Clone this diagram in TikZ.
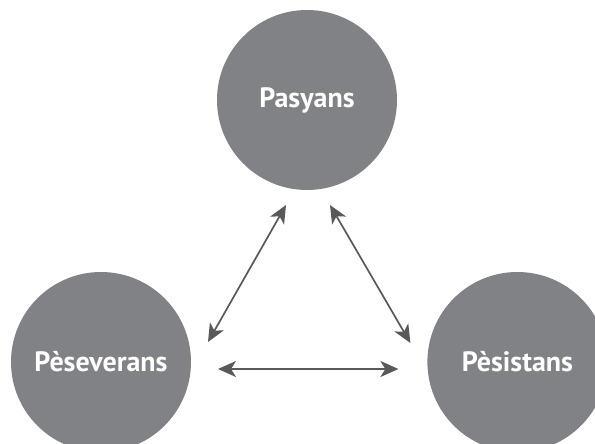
\documentclass[tikz,border=0pt]{standalone}
\usepackage{fontspec}
\setsansfont{PT Sans}
\usepackage{tikz}
\usetikzlibrary{positioning}
\usetikzlibrary{calc}
\usetikzlibrary{arrows.meta}

\definecolor{circlegray}{HTML}{808285}
\definecolor{arrowgray}{HTML}{58595B}

\begin{document}
\begin{tikzpicture}[x=1pt,y=1pt]
    % \draw (0,0) grid (595,444);
    \clip (0,0) rectangle (595,444);
    \useasboundingbox (0,0) rectangle (595,444);

    \def\dist{236pt}
  \tikzset{virtue node/.style={circle, fill=circlegray, minimum size=180pt, inner sep=0pt,
      text=white, font=\sffamily\bfseries\fontsize{28}{32}\selectfont}}
  \tikzset{link arrow/.style={draw=arrowgray, line width=1.7pt,
      {Stealth[length=18pt, width=16pt, inset=5pt]}-{Stealth[length=18pt, width=16pt, inset=5pt]}}}

  \coordinate (origin) at (307, 82);

  \node[virtue node] (pas) at ($(origin)+(0, 262)$) {Pasyans};
  \node[virtue node] (pes) at ($(origin)+(-206, 0)$) {Pèseverans};
  \node[right=\dist of pes, virtue node] (pis) {Pèsistans};
  %
  %
  \coordinate (pasl) at ($(pas)+(-21, -105)$);
  \coordinate (pasr) at ($(pas)+(23, -105)$);
  \coordinate (pesu) at ($(pes)+(107, 20)$);
  \coordinate (pesr) at ($(pes)+(117, -7)$);
  \coordinate (pisu) at ($(pis)+(-107, 19)$);
  \coordinate (pisl) at ($(pis)+(-119, -7)$);
  %
  \draw[link arrow] (pesu) to (pasl);
  \draw[link arrow] (pisu) to (pasr);
  \draw[link arrow] (pesr) to (pisl);
\end{tikzpicture}
\end{document}
